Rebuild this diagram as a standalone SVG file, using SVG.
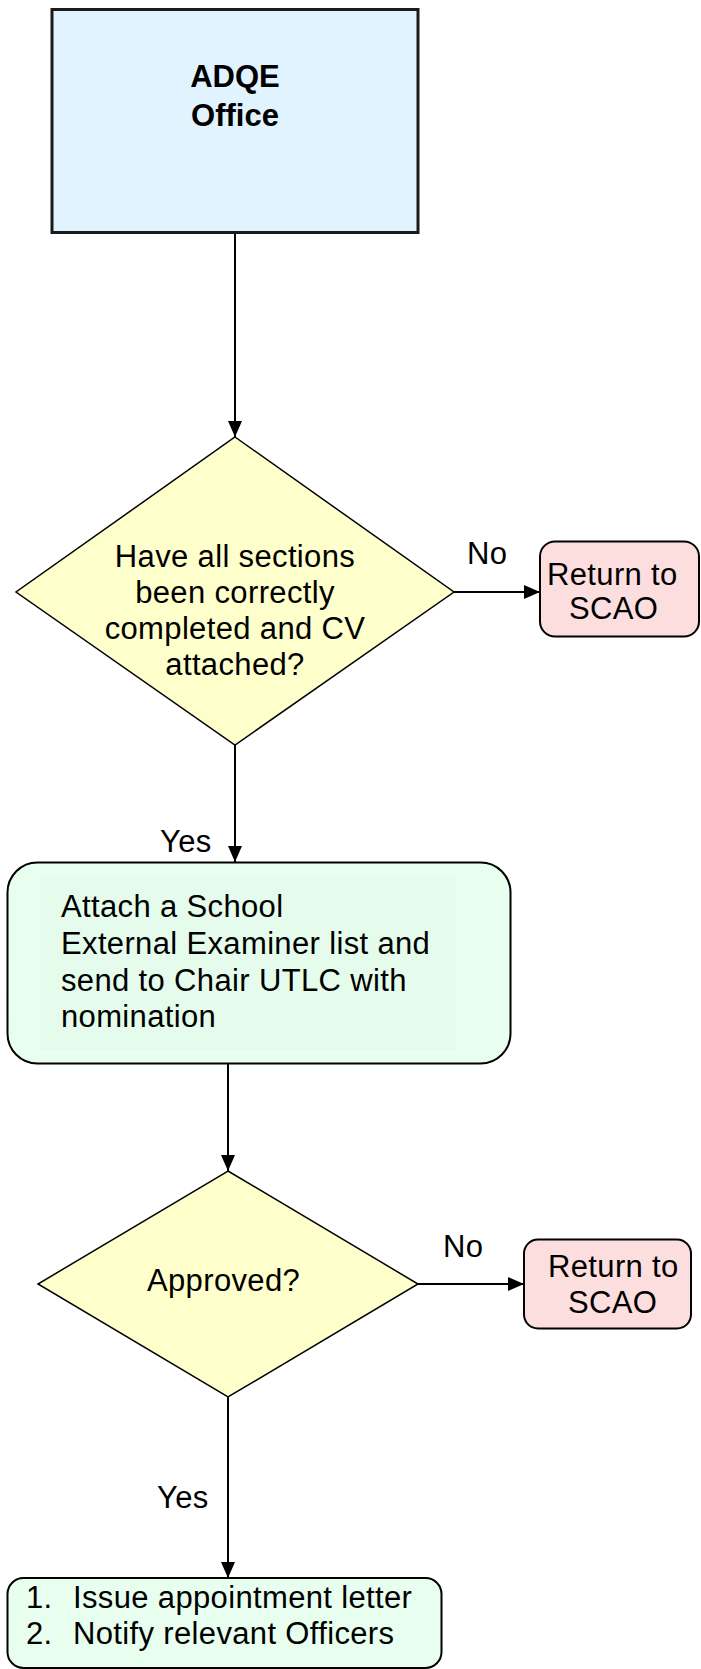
<svg xmlns="http://www.w3.org/2000/svg" width="701" height="1669" viewBox="0 0 701 1669">
<style>
.t{font-family:"Liberation Sans",Arial,sans-serif;font-size:31px;letter-spacing:0.35px;fill:#000}
.b{font-weight:bold;letter-spacing:0}
.dia{fill:#FFFFCC;stroke:#000;stroke-width:1.5}
.ret{fill:#FDDEDE;stroke:#000;stroke-width:2}
.grn{fill:#E8FEEE;stroke:#000;stroke-width:2}
.con{stroke:#000;stroke-width:2;fill:none}
</style>
<defs>
<marker id="ah" markerUnits="userSpaceOnUse" markerWidth="16" markerHeight="14" refX="16" refY="7" orient="auto">
<path d="M0,0 L16,7 L0,14 z" fill="#000"/>
</marker>
</defs>
<rect width="701" height="1669" fill="#fff"/>
<g id="connectors">
<line class="con" x1="235" y1="233" x2="235" y2="437" marker-end="url(#ah)"/>
<line class="con" x1="454" y1="592" x2="540" y2="592" marker-end="url(#ah)"/>
<line class="con" x1="235" y1="745" x2="235" y2="862" marker-end="url(#ah)"/>
<line class="con" x1="228" y1="1064" x2="228" y2="1171" marker-end="url(#ah)"/>
<line class="con" x1="418" y1="1284" x2="524" y2="1284" marker-end="url(#ah)"/>
<line class="con" x1="228" y1="1397" x2="228" y2="1578" marker-end="url(#ah)"/>
<text class="t" x="467" y="564">No</text>
<text class="t" x="160" y="852">Yes</text>
<text class="t" x="443" y="1257">No</text>
<text class="t" x="157" y="1508">Yes</text>
</g>
<g id="adqe">
<rect x="52" y="9.5" width="366" height="223" fill="#E1F3FE" stroke="#1a1a1a" stroke-width="3"/>
<text class="t b" x="235" y="87" text-anchor="middle">ADQE</text>
<text class="t b" x="235" y="126" text-anchor="middle">Office</text>
</g>
<g id="check">
<polygon class="dia" points="235,437 454,592 235,745 16,592"/>
<text class="t" x="235" y="567" text-anchor="middle">Have all sections</text>
<text class="t" x="235" y="603" text-anchor="middle">been correctly</text>
<text class="t" x="235" y="639" text-anchor="middle">completed and CV</text>
<text class="t" x="235" y="675" text-anchor="middle">attached?</text>
</g>
<g id="return1">
<rect class="ret" x="540" y="541.5" width="159" height="95" rx="15"/>
<text class="t" x="547" y="585">Return to</text>
<text class="t" x="569" y="619">SCAO</text>
</g>
<g id="attach">
<rect class="grn" x="7.5" y="862.5" width="503" height="201" rx="30"/>
<rect x="40" y="877" width="416" height="173" fill="#E5FCEC"/>
<text class="t" x="61" y="917">Attach a School</text>
<text class="t" x="61" y="954">External Examiner list and</text>
<text class="t" x="61" y="991">send to Chair UTLC with</text>
<text class="t" x="61" y="1027">nomination</text>
</g>
<g id="approved">
<polygon class="dia" points="228,1171 418,1284 228,1397 38,1284"/>
<text class="t" x="147" y="1291">Approved?</text>
</g>
<g id="return2">
<rect class="ret" x="524" y="1239.5" width="167" height="89" rx="14"/>
<text class="t" x="548" y="1277">Return to</text>
<text class="t" x="568" y="1313">SCAO</text>
</g>
<g id="issue">
<rect class="grn" x="7.5" y="1578" width="434" height="90" rx="16"/>
<text class="t" x="26" y="1608">1.</text>
<text class="t" x="73" y="1608">Issue appointment letter</text>
<text class="t" x="26" y="1644">2.</text>
<text class="t" x="73" y="1644">Notify relevant Officers</text>
</g>
</svg>
